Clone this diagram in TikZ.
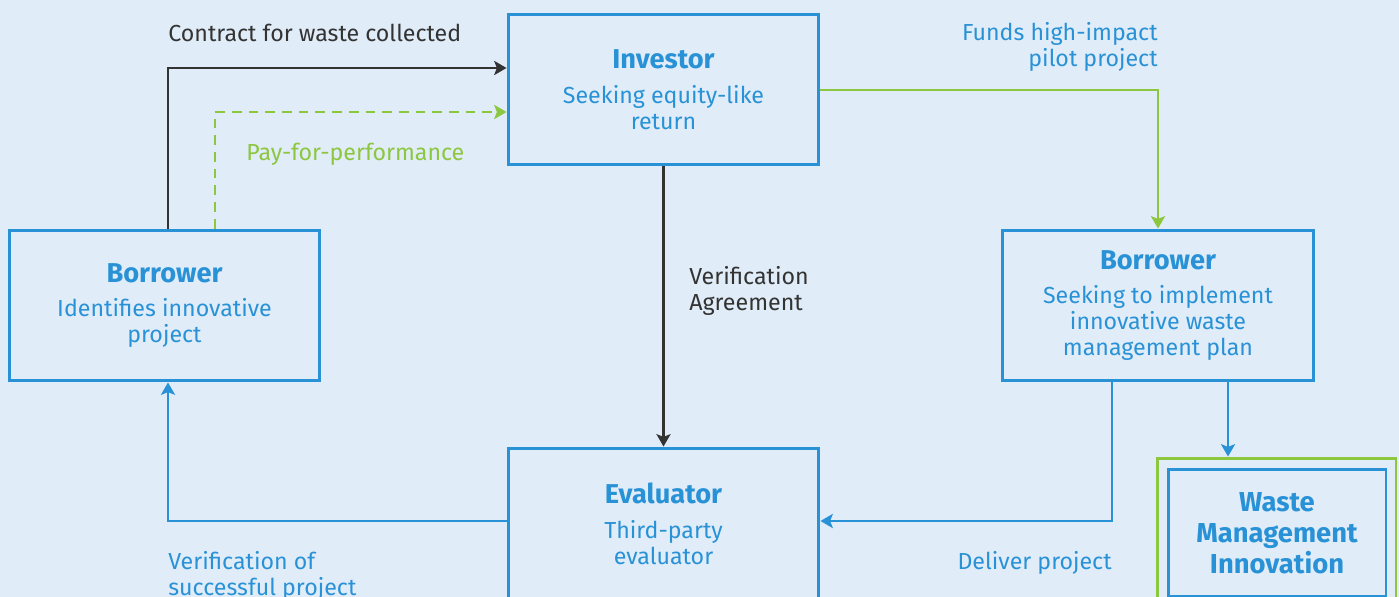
\documentclass[tikz,border=0pt]{standalone}
\usepackage{fontspec}
\setmainfont{Fira Sans}
\usetikzlibrary{arrows.meta}
\usepackage{xcolor}
\definecolor{paperBg}{RGB}{224,236,248}
\definecolor{flowBlue}{RGB}{41,146,214}
\definecolor{flowGreen}{RGB}{141,198,63}
\definecolor{flowDark}{RGB}{51,51,51}

\begin{document}
\begin{tikzpicture}[x=0.02cm,y=-0.02cm,
        box/.style={draw=flowBlue,line width=1.7pt,minimum width=6.22cm,minimum height=3.02cm,
            align=center,text=flowBlue,font=\fontsize{13.2}{14.8}\selectfont,inner sep=0pt},
        flow/.style={line width=1.5pt,-{Stealth[length=7pt,width=8pt,inset=1.5pt]}},
        lbl/.style={font=\fontsize{13.2}{14.8}\selectfont,inner sep=0pt}]
        % page
        \useasboundingbox (0,0) rectangle (1399,597);
        \fill[paperBg] (0,0) rectangle (1399,597);
        \clip (0,0) rectangle (1399,597);
        % boxes
        \node[box] (inv) at (663.5,89.5) {{\bfseries\fontsize{15.5}{17}\selectfont Investor}\\[5pt]Seeking equity-like\\return};
        \node[box] (lbor) at (164.5,305.5) {{\bfseries\fontsize{15.5}{17}\selectfont Borrower}\\[5pt]Identifies innovative\\project};
        \node[box,minimum width=6.24cm] (rbor) at (1158,305.5) {{\bfseries\fontsize{15.5}{17}\selectfont Borrower}\\[5pt]Seeking to implement\\innovative waste\\management plan};
        \node[box] (eval) at (663.5,523.5) {{\bfseries\fontsize{15.5}{17}\selectfont Evaluator}\\[5pt]Third-party\\evaluator};
        \node[draw=flowGreen,line width=1.7pt,minimum width=4.78cm,minimum height=3cm] (wmframe) at (1276.5,533) {};
        \node[box,minimum width=4.36cm,minimum height=2.56cm,font=\bfseries\fontsize{15.6}{17.6}\selectfont] (wm) at (1277,533) {Waste\\Management\\Innovation};
        % turning points
        \coordinate (contract) at (168,68);
        \coordinate (pay) at (215,112);
        \coordinate (funds) at (1158,90);
        \coordinate (deliver) at (1112,521);
        \coordinate (verif) at (168,521);
        \coordinate (innov) at (1228,400);
        % connectors
        \draw[flow,flowDark] (lbor.north -| contract) |- (inv.west |- contract);
        \draw[flow,flowGreen,dash pattern=on 5.5pt off 4pt] (lbor.north -| pay) |- (inv.west |- pay);
        \draw[flow,flowGreen] (inv.east |- funds) -| (rbor.north);
        \draw[flow,flowDark] (inv.south) -- (eval.north);
        \draw[flow,flowBlue] (rbor.south -| deliver) |- (eval.east |- deliver);
        \draw[flow,flowBlue] (rbor.south -| innov) -- (wmframe.north -| innov);
        \draw[flow,flowBlue] (eval.west |- verif) -| (lbor.south -| verif);
        % labels
        \node[lbl,text=flowDark,anchor=west] (lcontract) at (168,33) {Contract for waste collected};
        \node[lbl,text=flowGreen,anchor=west] (lpay) at (246,154) {Pay-for-performance};
        \node[lbl,text=flowBlue,anchor=east,align=right] (lfunds) at (1158,46.5) {Funds high-impact\\pilot project};
        \node[lbl,text=flowDark,anchor=west,align=left] (lagree) at (689,291) {Verification\\Agreement};
        \node[lbl,text=flowBlue,anchor=west,align=left] (lverif) at (168,575.5) {Verification of\\successful project};
        \node[lbl,text=flowBlue,anchor=east] (ldeliver) at (1112,563) {Deliver project};
    \end{tikzpicture}
\end{document}
